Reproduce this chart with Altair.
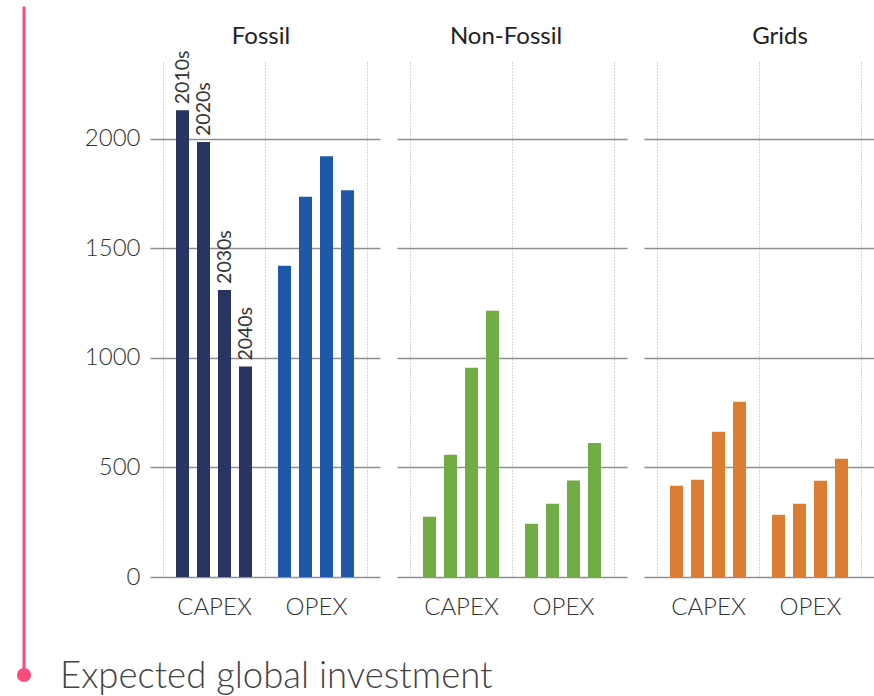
import altair as alt
import pandas as pd

# ---- data ----
decades = ["2010s", "2020s", "2030s", "2040s"]
types = ["CAPEX", "OPEX"]
sectors = ["Fossil", "Non-Fossil", "Grids"]

fossil_capex = [2130, 1985, 1310, 960]
fossil_opex = [1420, 1735, 1920, 1765]
nonfossil_capex = [275, 558, 955, 1215]
nonfossil_opex = [243, 334, 440, 612]
grids_capex = [416, 444, 663, 800]
grids_opex = [284, 334, 439, 540]

y_ticks = [0, 500, 1000, 1500, 2000]
caption = "Expected global investment"

series_keys = ["Fossil CAPEX", "Fossil OPEX", "Non-Fossil CAPEX",
               "Non-Fossil OPEX", "Grids CAPEX", "Grids OPEX"]
series_colors = ["#283462", "#1f58a8", "#72ac47", "#72ac47", "#db7e33", "#db7e33"]

series = {
    ("Fossil", "CAPEX"): fossil_capex,
    ("Fossil", "OPEX"): fossil_opex,
    ("Non-Fossil", "CAPEX"): nonfossil_capex,
    ("Non-Fossil", "OPEX"): nonfossil_opex,
    ("Grids", "CAPEX"): grids_capex,
    ("Grids", "OPEX"): grids_opex,
}
rows = []
for (s, t), vals in series.items():
    for d, v in zip(decades, vals):
        rows.append({"sector": s, "type": t, "decade": d, "value": v, "key": f"{s} {t}"})
df = pd.DataFrame(rows)

PINK = "#fb4a7c"
FONT = "Lato"
PW, PH = 230, 515
title_dx = {"Fossil": -4, "Non-Fossil": -6, "Grids": 21}


def panel(sector, first):
    base = alt.Chart(df).transform_filter(alt.datum.sector == sector)
    yaxis = alt.Axis(values=y_ticks, format="d", grid=True, gridColor="#8f8f8f",
                     gridWidth=1.3, domain=False, ticks=False, labels=first,
                     labelFont=FONT, labelFontSize=24, labelFontWeight=300,
                     labelColor="#333", labelPadding=10, title=None)
    xaxis = alt.Axis(title=None, grid=True, tickBand="extent", gridDash=[1, 2],
                     gridColor="#aaaaaa", gridWidth=1, domain=False, ticks=False,
                     labelAngle=0, labelFont=FONT, labelFontSize=24,
                     labelFontWeight=300, labelColor="#333", labelPadding=18)
    xenc = alt.X("type:N", sort=types, axis=xaxis,
                 scale=alt.Scale(paddingInner=0, paddingOuter=0.1275))
    xoff = alt.XOffset("decade:N", sort=decades,
                       scale=alt.Scale(paddingInner=0.381, paddingOuter=0.619))
    yenc = alt.Y("value:Q", scale=alt.Scale(domain=[0, 2350], nice=False), axis=yaxis)
    bars = base.mark_bar().encode(
        x=xenc, xOffset=xoff, y=yenc,
        color=alt.Color("key:N", scale=alt.Scale(domain=series_keys, range=series_colors),
                        legend=None),
    )
    head = alt.Chart(alt.Data(values=[{"name": sector}])).mark_text(
        align="center", baseline="alphabetic", font=FONT, fontSize=24,
        fontWeight=400, color="#222"
    ).encode(x=alt.value(PW / 2 + title_dx[sector]), y=alt.value(-18), text="name:N")
    layers = [bars, head]
    if first:
        labels = base.transform_filter(alt.datum.type == "CAPEX").mark_text(
            angle=270, align="left", baseline="middle", dx=6, font=FONT,
            fontSize=19.5, color="#333"
        ).encode(x=xenc, xOffset=xoff, y=yenc, text="decade:N")
        layers.append(labels)
    return alt.layer(*layers).properties(width=PW, height=PH)


decor_data = alt.Data(values=[{"caption": caption}])
rule = alt.Chart(decor_data).mark_rule(color=PINK, strokeWidth=3).encode(
    x=alt.value(24), y=alt.value(-55.5), y2=alt.value(613))
dot = alt.Chart(decor_data).mark_circle(color=PINK, opacity=1, size=200).encode(
    x=alt.value(24), y=alt.value(613))
text = alt.Chart(decor_data).mark_text(
    align="left", baseline="alphabetic", font=FONT, fontSize=36.5, fontWeight=300,
    color="#444").encode(x=alt.value(60), y=alt.value(626), text="caption:N")
decor = alt.layer(rule, dot, text).properties(width=133, height=PH)

chart = alt.hconcat(
    decor, panel("Fossil", True), panel("Non-Fossil", False), panel("Grids", False),
    spacing=17, bounds="flush",
).properties(
    padding={"left": 0, "top": 5, "right": 0, "bottom": 0},
).configure_view(stroke=None)

chart.save("out.html", embed_options={"renderer": "svg", "actions": False})
